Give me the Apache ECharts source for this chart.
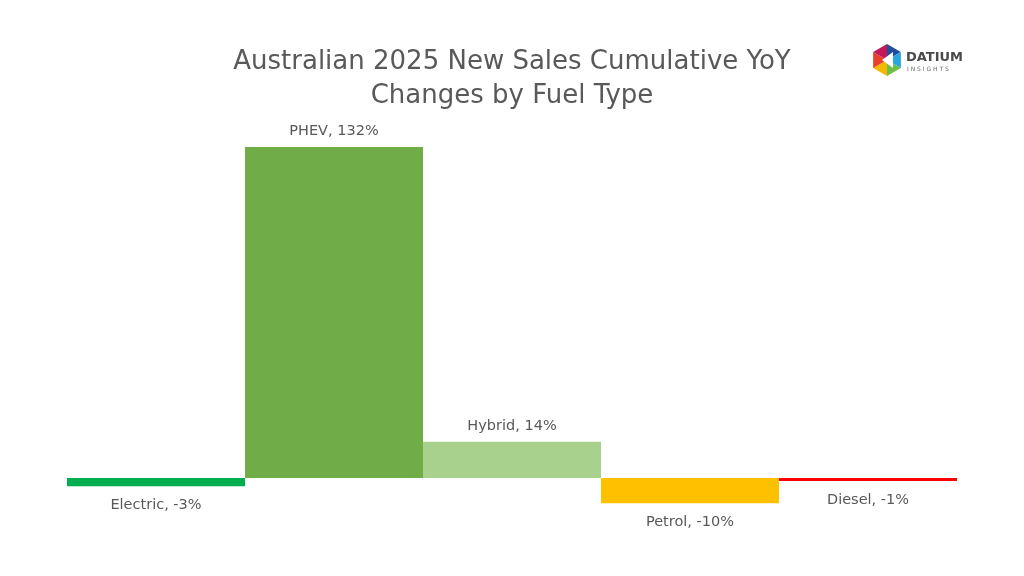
<!DOCTYPE html>
<html>
<head>
<meta charset="utf-8">
<script src="https://cdn.jsdelivr.net/npm/echarts@6/dist/echarts.min.js"></script>
<style>html,body{margin:0;padding:0;background:#fff}#c{width:1024px;height:576px}</style>
</head>
<body>
<div id="c"></div>
<script>
const categories = ['Electric', 'PHEV', 'Hybrid', 'Petrol', 'Diesel'];
const values = [-3.3, 132, 14.4, -10.1, -1.2];
const colors = ['#00B050', '#70AD47', '#A9D18E', '#FFC000', '#FF0000'];
const titleText = 'Australian 2025 New Sales Cumulative YoY\nChanges by Fuel Type';

const chart = echarts.init(document.getElementById('c'), null, {renderer: 'canvas'});
const font = 'DejaVu Sans';

function hexPiece(cx, cy, r, i, color) {
  const a1 = Math.PI / 180 * (60 * i - 90);
  const a2 = Math.PI / 180 * (60 * (i + 1) - 90);
  return {
    type: 'polygon',
    shape: {points: [[cx, cy], [cx + r * Math.cos(a1), cy + r * Math.sin(a1)], [cx + r * Math.cos(a2), cy + r * Math.sin(a2)]]},
    style: {fill: color}
  };
}
const hexColors = ['#1f4e9c', '#2aa6df', '#6cc04a', '#f5b800', '#e8402a', '#c2185b'];
const logo = [];
for (let i = 0; i < 6; i++) logo.push(hexPiece(887, 60, 16, i, hexColors[i]));
logo.push({type: 'polygon', shape: {points: [[882, 60], [893, 52], [893, 68]]}, style: {fill: '#ffffff'}});
logo.push({type: 'text', left: 906, top: 51, style: {text: 'DATIUM', font: 'bold 13px "DejaVu Sans"', fill: '#4a4a4a'}});
logo.push({type: 'text', left: 907, top: 66, style: {text: 'I N S I G H T S', font: '6px "DejaVu Sans"', fill: '#6a6a6a'}});

chart.setOption({
  animation: false,
  backgroundColor: '#ffffff',
  title: {
    text: titleText,
    left: 'center',
    top: 40,
    textStyle: {fontFamily: font, fontSize: 26, fontWeight: 'normal', color: '#595959', lineHeight: 34}
  },
  grid: {left: 67, right: 67, top: 127, bottom: 48, containLabel: false},
  xAxis: {
    type: 'category', data: categories, show: false, boundaryGap: true
  },
  yAxis: {type: 'value', min: -20, max: 140, show: false, splitLine: {show: false}},
  series: [{
    type: 'bar',
    barCategoryGap: '0%',
    data: values.map((v, i) => ({
      value: v,
      itemStyle: {color: colors[i]},
      label: {position: v >= 0 ? 'top' : 'bottom', distance: v >= 0 ? 8 : 12}
    })),
    label: {
      show: true,
      fontFamily: font,
      fontSize: 14.5,
      color: '#595959',
      formatter: p => p.name + ', ' + Math.round(p.value) + '%'
    }
  }],
  graphic: logo
});
</script>
</body>
</html>
